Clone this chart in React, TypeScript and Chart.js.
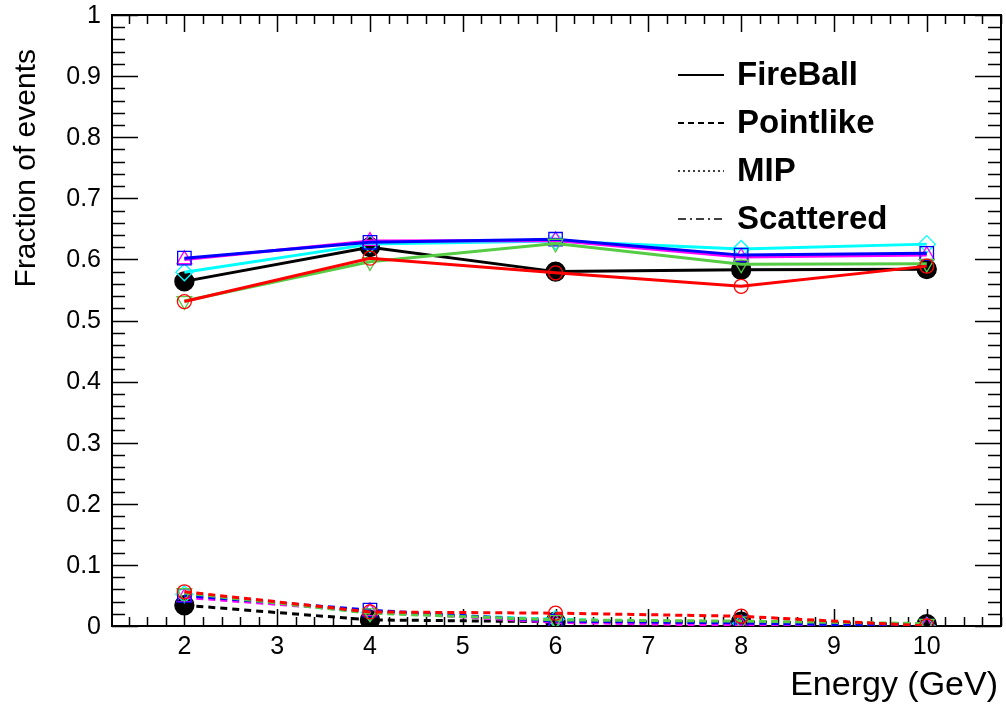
import React, { useEffect, useRef } from "react";
import { Chart, registerables } from "chart.js";

Chart.register(...registerables);

const energies = [2, 4, 6, 8, 10];

// FireBall fractions (solid lines)
const fireBlack = [0.564, 0.62, 0.58, 0.583, 0.584];
const fireRed = [0.531, 0.602, 0.578, 0.556, 0.589];
const fireGreen = [0.532, 0.596, 0.626, 0.592, 0.593];
const fireBlue = [0.602, 0.628, 0.633, 0.607, 0.61];
const fireMagenta = [0.6, 0.63, 0.631, 0.604, 0.607];
const fireCyan = [0.579, 0.625, 0.63, 0.617, 0.625];

// Pointlike fractions (dashed lines)
const pointBlack = [0.034, 0.01, 0.007, 0.007, 0.003];
const pointRed = [0.056, 0.023, 0.021, 0.016, 0.0];
const pointGreen = [0.054, 0.021, 0.01, 0.008, 0.004];
const pointBlue = [0.05, 0.026, 0.008, 0.005, 0.0];
const pointMagenta = [0.047, 0.024, 0.006, 0.001, 0.0];
const pointCyan = [0.052, 0.022, 0.011, 0.004, 0.0];

const xTickLabels = ["2", "3", "4", "5", "6", "7", "8", "9", "10"];
const yTickLabels = ["0", "0.1", "0.2", "0.3", "0.4", "0.5", "0.6", "0.7", "0.8", "0.9", "1"];
const legendLabels = ["FireBall", "Pointlike", "MIP", "Scattered"];

const xTitle = "Energy (GeV)";
const yTitle = "Fraction of events";

type SeriesStyle = {
  color: string;
  style: string;
  radius: number;
  rotation: number;
  filled: boolean;
};

const seriesStyles: SeriesStyle[] = [
  { color: "#ff0000", style: "circle", radius: 7, rotation: 0, filled: false },
  { color: "#55cc44", style: "triangle", radius: 8.5, rotation: 180, filled: false },
  { color: "#0000ff", style: "rect", radius: 9.5, rotation: 0, filled: false },
  { color: "#ff00ff", style: "triangle", radius: 8.5, rotation: 0, filled: false },
  { color: "#00ffff", style: "rectRot", radius: 8.5, rotation: 0, filled: false },
  { color: "#000000", style: "circle", radius: 9.5, rotation: 0, filled: true },
];

const fireSeries = [fireRed, fireGreen, fireBlue, fireMagenta, fireCyan, fireBlack];
const pointSeries = [pointRed, pointGreen, pointBlue, pointMagenta, pointCyan, pointBlack];

const FONT = "'Liberation Sans', Arial, Helvetica, sans-serif";

const axesPlugin = {
  id: "rootAxes",
  beforeDatasetsDraw(chart: any) {
    const { ctx, chartArea } = chart;
    const xs = chart.scales.x;
    const ys = chart.scales.y;
    const { left, right, top, bottom } = chartArea;
    ctx.save();
    ctx.strokeStyle = "#000";
    ctx.lineWidth = 2;
    ctx.strokeRect(left, top, right - left, bottom - top);
    ctx.lineWidth = 1.5;
    // x ticks
    for (let k = 7; k <= 54; k++) {
      const v = k * 0.2;
      const px = Math.round(xs.getPixelForValue(v)) + 0.5;
      const major = k % 5 === 0;
      const len = major ? 17 : 9;
      ctx.beginPath();
      ctx.moveTo(px, bottom);
      ctx.lineTo(px, bottom - len);
      ctx.moveTo(px, top);
      ctx.lineTo(px, top + len);
      ctx.stroke();
    }
    // y ticks
    for (let i = 0; i <= 50; i++) {
      const v = i * 0.02;
      const py = Math.round(ys.getPixelForValue(v)) + 0.5;
      const major = i % 5 === 0;
      const len = major ? 26 : 13;
      ctx.beginPath();
      ctx.moveTo(left, py);
      ctx.lineTo(left + len, py);
      ctx.moveTo(right, py);
      ctx.lineTo(right - len, py);
      ctx.stroke();
    }
    ctx.fillStyle = "#000";
    ctx.font = `25px ${FONT}`;
    ctx.textAlign = "center";
    ctx.textBaseline = "middle";
    xTickLabels.forEach((lab) => {
      ctx.fillText(lab, xs.getPixelForValue(Number(lab)), 647);
    });
    ctx.textAlign = "right";
    yTickLabels.forEach((lab) => {
      ctx.fillText(lab, 101, ys.getPixelForValue(Number(lab)) + 1);
    });
    ctx.font = `34px ${FONT}`;
    ctx.textAlign = "right";
    ctx.textBaseline = "alphabetic";
    ctx.fillText(xTitle, 998, 695);
    ctx.save();
    ctx.translate(35, 49);
    ctx.rotate(-Math.PI / 2);
    ctx.textAlign = "right";
    ctx.font = `30px ${FONT}`;
    ctx.fillText(yTitle, 0, 0);
    ctx.restore();
    ctx.restore();
  },
  afterDraw(chart: any) {
    const { ctx } = chart;
    ctx.save();
    const dashes = [[], [6, 4], [2, 3], [8, 4, 2, 4]];
    const rowsY = [75, 123, 171, 219];
    legendLabels.forEach((lab, i) => {
      ctx.strokeStyle = "#000";
      ctx.lineWidth = i >= 2 ? 1.5 : 2;
      ctx.setLineDash(dashes[i]);
      ctx.beginPath();
      ctx.moveTo(678, rowsY[i]);
      ctx.lineTo(724, rowsY[i]);
      ctx.stroke();
      ctx.setLineDash([]);
      ctx.fillStyle = "#000";
      ctx.font = `bold 33px ${FONT}`;
      ctx.textAlign = "left";
      ctx.textBaseline = "middle";
      ctx.fillText(lab, 737, rowsY[i] + 1);
    });
    ctx.restore();
  },
};

function makeDataset(values: number[], s: SeriesStyle, dashed: boolean, label: string) {
  return {
    label,
    data: energies.map((e, i) => ({ x: e, y: values[i] })),
    borderColor: s.color,
    borderWidth: 3,
    borderDash: dashed ? [7, 5] : [],
    pointStyle: s.style,
    pointRadius: s.radius,
    pointRotation: s.rotation,
    pointBorderWidth: 1.3,
    pointBorderColor: s.color,
    pointBackgroundColor: s.filled ? s.color : "rgba(0,0,0,0)",
    fill: false,
    tension: 0,
  };
}

export default function App() {
  const canvasRef = useRef<HTMLCanvasElement | null>(null);
  useEffect(() => {
    document.body.style.margin = "0";
    const canvas = canvasRef.current;
    if (!canvas) return;
    const datasets: any[] = [];
    pointSeries.forEach((vals, i) => datasets.push(makeDataset(vals, seriesStyles[i], true, `Pointlike ${i}`)));
    fireSeries.forEach((vals, i) => datasets.push(makeDataset(vals, seriesStyles[i], false, `FireBall ${i}`)));
    const chart = new Chart(canvas, {
      type: "line",
      data: { datasets },
      options: {
        responsive: false,
        animation: false,
        layout: { autoPadding: false, padding: { left: 112, top: 15, right: 5, bottom: 82 } },
        plugins: { legend: { display: false }, tooltip: { enabled: false } },
        scales: {
          x: { type: "linear", min: 1.22, max: 10.8, display: false },
          y: { type: "linear", min: 0, max: 1, display: false },
        },
      },
      plugins: [axesPlugin],
    });
    return () => chart.destroy();
  }, []);
  return (
    <div style={{ width: 1006, height: 708, background: "#fff" }}>
      <canvas ref={canvasRef} width={1006} height={708} />
    </div>
  );
}
